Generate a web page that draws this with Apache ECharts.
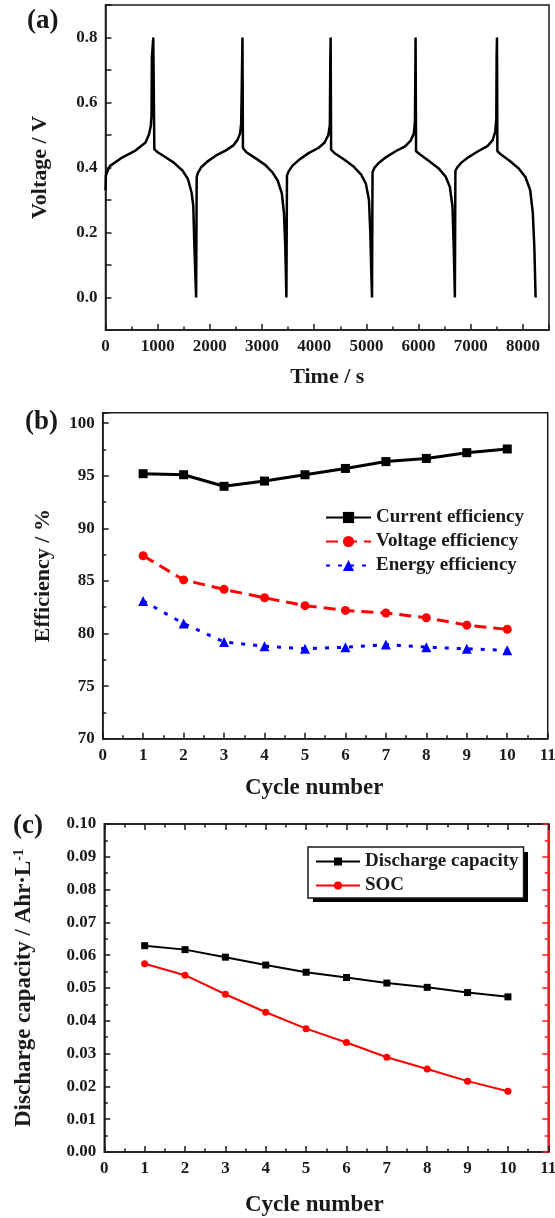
<!DOCTYPE html>
<html>
<head>
<meta charset="utf-8">
<script src="https://cdn.jsdelivr.net/npm/echarts@6/dist/echarts.min.js"></script>
<style>
  html, body { margin: 0; padding: 0; background: #fff; }
  #chart { width: 555px; height: 1218px; }
</style>
</head>
<body>
<div id="chart"></div>
<script>
// (a) voltage vs time, one array per charge/discharge cycle: [time s, voltage V]
var cycle1 = [[0, 0.33], [8, 0.375], [40, 0.39], [88, 0.405], [292, 0.428], [563, 0.451], [767, 0.477], [834, 0.502], [868, 0.528], [882, 0.558], [889, 0.74], [916, 0.80], [936, 0.456],
  [1000, 0.447], [1106, 0.436], [1309, 0.415], [1479, 0.39], [1581, 0.364], [1649, 0.323], [1682, 0.283], [1703, 0.16], [1737, 0.0]];
var cycle2 = [[1748, 0.37], [1770, 0.383], [1830, 0.40], [1950, 0.418], [2120, 0.437], [2300, 0.452], [2450, 0.468], [2530, 0.485], [2580, 0.505], [2600, 0.535], [2612, 0.65], [2625, 0.80], [2634, 0.46],
  [2700, 0.447], [2880, 0.428], [3060, 0.408], [3200, 0.385], [3300, 0.36], [3380, 0.32], [3420, 0.26], [3445, 0.16], [3467, 0.0]];
var cycle3 = [[3478, 0.375], [3510, 0.388], [3580, 0.405], [3720, 0.425], [3900, 0.445], [4080, 0.46], [4200, 0.477], [4270, 0.50], [4300, 0.53], [4308, 0.72], [4315, 0.80], [4324, 0.455],
  [4400, 0.443], [4580, 0.424], [4760, 0.402], [4900, 0.378], [4990, 0.35], [5050, 0.30], [5075, 0.20], [5090, 0.10], [5108, 0.0]];
var cycle4 = [[5118, 0.385], [5150, 0.398], [5230, 0.413], [5380, 0.432], [5560, 0.45], [5740, 0.465], [5850, 0.483], [5910, 0.505], [5930, 0.54], [5937, 0.66], [5943, 0.80], [5952, 0.45],
  [6030, 0.44], [6200, 0.42], [6380, 0.398], [6520, 0.372], [6600, 0.34], [6650, 0.28], [6675, 0.15], [6696, 0.0]];
var cycle5 = [[6706, 0.39], [6740, 0.40], [6820, 0.415], [6960, 0.432], [7140, 0.45], [7320, 0.466], [7420, 0.484], [7470, 0.51], [7490, 0.55], [7496, 0.74], [7503, 0.80], [7511, 0.45],
  [7580, 0.44], [7750, 0.42], [7920, 0.397], [8050, 0.37], [8140, 0.33], [8190, 0.26], [8220, 0.15], [8243, 0.0]];

// (b) efficiencies per cycle, %
var cycles = [1, 2, 3, 4, 5, 6, 7, 8, 9, 10];
var currentEff = [95.2, 95.1, 94.0, 94.5, 95.1, 95.7, 96.35, 96.65, 97.2, 97.55];
var voltageEff = [87.4, 85.1, 84.2, 83.4, 82.65, 82.2, 81.95, 81.5, 80.8, 80.4];
var energyEff = [83.1, 80.95, 79.2, 78.8, 78.55, 78.7, 78.95, 78.7, 78.55, 78.4];

// (c) discharge capacity and SOC per cycle
var dischargeCap = [0.0629, 0.0617, 0.0594, 0.0570, 0.0548, 0.0532, 0.0515, 0.0502, 0.0486, 0.0473];
var soc = [0.0574, 0.0539, 0.0481, 0.0426, 0.0376, 0.0334, 0.0289, 0.0253, 0.0216, 0.0185];

var voltageData = cycle1.concat(cycle2, cycle3, cycle4, cycle5);
function pairs(ys) { return cycles.map(function (c, i) { return [c, ys[i]]; }); }

var FONT = "'Liberation Serif', 'Times New Roman', serif";
var INK = '#1a1a1a';

function tickLabel(fmt) {
  return { show: true, color: INK, fontFamily: FONT, fontWeight: 'bold', fontSize: 17, margin: 8, formatter: fmt, hideOverlap: false };
}
function nameStyle(size, padding) {
  return { color: INK, fontFamily: FONT, fontWeight: 'bold', fontSize: size || 22, padding: padding || 0 };
}
var axisLine = { show: true, onZero: false, lineStyle: { color: INK, width: 1.5 } };
var tick = { show: true, inside: true, length: 6, lineStyle: { color: INK, width: 1.5 } };
var minor = { show: true, splitNumber: 2, length: 3.5, lineStyle: { color: INK, width: 1.5 } };
var noSplit = { show: false };

var chart = echarts.init(document.getElementById('chart'));
var option = {
  backgroundColor: '#fff',
  animation: false,
  grid: [
    { left: 105.5, top: 5, width: 443.5, height: 325, show: true, borderColor: INK, borderWidth: 1.5, backgroundColor: 'transparent', containLabel: false, outerBoundsMode: 'none' },
    { left: 102.7, top: 412.7, width: 445, height: 326, show: true, borderColor: INK, borderWidth: 1.5, backgroundColor: 'transparent', containLabel: false, outerBoundsMode: 'none' },
    { left: 104.3, top: 824, width: 444, height: 328, show: true, borderColor: INK, borderWidth: 1.5, backgroundColor: 'transparent', containLabel: false, outerBoundsMode: 'none' }
  ],
  xAxis: [
    {
      type: 'value', gridIndex: 0, min: 0, max: 8500, interval: 1000,
      name: 'Time / s', nameLocation: 'middle', nameGap: 36, nameTextStyle: nameStyle(22),
      axisLine: axisLine, axisTick: tick, minorTick: minor, splitLine: noSplit,
      axisLabel: tickLabel(function (v) { return v % 1000 === 0 ? String(v) : ''; })
    },
    {
      type: 'value', gridIndex: 1, min: 0, max: 11, interval: 1,
      name: 'Cycle number', nameLocation: 'middle', nameGap: 38, nameTextStyle: nameStyle(23, [0, 22, 0, 0]),
      axisLine: axisLine, axisTick: tick, minorTick: minor, splitLine: noSplit,
      axisLabel: tickLabel(function (v) { return String(v); })
    },
    {
      type: 'value', gridIndex: 2, min: 0, max: 11, interval: 1,
      name: 'Cycle number', nameLocation: 'middle', nameGap: 42, nameTextStyle: nameStyle(23, [0, 24, 0, 0]),
      axisLine: axisLine, axisTick: tick, minorTick: minor, splitLine: noSplit,
      axisLabel: tickLabel(function (v) { return String(v); })
    },
    {
      type: 'value', gridIndex: 2, position: 'top', min: 0, max: 11, interval: 1,
      axisLine: axisLine, axisTick: tick, minorTick: minor, splitLine: noSplit,
      axisLabel: { show: false }
    }
  ],
  yAxis: [
    {
      type: 'value', gridIndex: 0, min: -0.1, max: 0.9, interval: 0.1,
      name: 'Voltage / V', nameLocation: 'middle', nameGap: 54, nameTextStyle: nameStyle(22),
      axisLine: axisLine, axisTick: tick, splitLine: noSplit,
      axisLabel: tickLabel(function (v) {
        var k = Math.round(v * 10);
        return (k >= 0 && k % 2 === 0) ? (k / 10).toFixed(1) : '';
      })
    },
    {
      type: 'value', gridIndex: 1, min: 70, max: 101, interval: 5,
      name: 'Efficiency / %', nameLocation: 'middle', nameGap: 48, nameTextStyle: nameStyle(22),
      axisLine: axisLine, axisTick: tick, minorTick: minor, splitLine: noSplit,
      axisLabel: tickLabel(function (v) { return v % 5 === 0 ? String(v) : ''; })
    },
    {
      type: 'value', gridIndex: 2, min: 0, max: 0.1, interval: 0.01,
      name: 'Discharge capacity / Ahr·L{sup|-1}', nameLocation: 'middle', nameGap: 68,
      nameTextStyle: {
        color: INK, fontFamily: FONT, fontWeight: 'bold', fontSize: 23,
        rich: { sup: { color: INK, fontFamily: FONT, fontWeight: 'bold', fontSize: 14, verticalAlign: 'top', padding: [0, 0, 10, 0] } }
      },
      axisLine: axisLine, axisTick: tick, minorTick: minor, splitLine: noSplit,
      axisLabel: tickLabel(function (v) { return v.toFixed(2); })
    },
    {
      type: 'value', gridIndex: 2, position: 'right', min: 0, max: 0.1, interval: 0.01,
      axisLine: { show: true, onZero: false, lineStyle: { color: '#ff1a1a', width: 2 } },
      axisTick: { show: true, inside: true, length: 6, lineStyle: { color: '#ff1a1a', width: 1.5 } },
      minorTick: { show: true, splitNumber: 2, length: 3.5, lineStyle: { color: '#ff1a1a', width: 1.5 } },
      splitLine: noSplit, axisLabel: { show: false }
    }
  ],
  legend: [
    {
      data: ['Current efficiency', 'Voltage efficiency', 'Energy efficiency'],
      left: 325, top: 508, orient: 'vertical', itemWidth: 45, itemHeight: 14, itemGap: 5, padding: 0,
      textStyle: { color: INK, fontFamily: FONT, fontWeight: 'bold', fontSize: 19 }
    },
    {
      data: ['Discharge capacity', 'SOC'],
      left: 308, top: 847, orient: 'vertical', itemWidth: 44, itemHeight: 10, itemGap: 5,
      padding: [5, 5, 3, 7], z: 5,
      backgroundColor: '#fff', borderColor: INK, borderWidth: 1.5,
      textStyle: { color: INK, fontFamily: FONT, fontWeight: 'bold', fontSize: 19 }
    }
  ],
  graphic: [
    { type: 'text', left: 27, top: 8, style: { text: '(a)', fill: INK, font: 'bold 27px ' + FONT } },
    { type: 'text', left: 25, top: 409, style: { text: '(b)', fill: INK, font: 'bold 27px ' + FONT } },
    { type: 'text', left: 13, top: 813, style: { text: '(c)', fill: INK, font: 'bold 27px ' + FONT } },
    // drop shadow behind the (c) legend box
    { type: 'rect', z: 1, shape: { x: 313, y: 852, width: 215, height: 50 }, style: { fill: '#000' } }
  ],
  series: [
    {
      name: 'Voltage', type: 'line', xAxisIndex: 0, yAxisIndex: 0, data: voltageData,
      showSymbol: false, symbol: 'none', lineStyle: { color: '#000', width: 2.5 }
    },
    {
      name: 'Current efficiency', type: 'line', xAxisIndex: 1, yAxisIndex: 1, data: pairs(currentEff),
      symbol: 'rect', symbolSize: 9, color: '#000', lineStyle: { color: '#000', width: 3 }
    },
    {
      name: 'Voltage efficiency', type: 'line', xAxisIndex: 1, yAxisIndex: 1, data: pairs(voltageEff),
      symbol: 'circle', symbolSize: 9, color: '#ff0000', lineStyle: { color: '#ff0000', width: 3, type: [12, 7] }
    },
    {
      name: 'Energy efficiency', type: 'line', xAxisIndex: 1, yAxisIndex: 1, data: pairs(energyEff),
      symbol: 'triangle', symbolSize: 10, color: '#0000ff', lineStyle: { color: '#0000ff', width: 3, type: [4, 8] }
    },
    {
      name: 'Discharge capacity', type: 'line', xAxisIndex: 2, yAxisIndex: 2, data: pairs(dischargeCap),
      symbol: 'rect', symbolSize: 7, color: '#000', lineStyle: { color: '#000', width: 2 }
    },
    {
      name: 'SOC', type: 'line', xAxisIndex: 2, yAxisIndex: 2, data: pairs(soc),
      symbol: 'circle', symbolSize: 7, color: '#ff0000', lineStyle: { color: '#ff0000', width: 2 }
    }
  ]
};
chart.setOption(option);
</script>
</body>
</html>
